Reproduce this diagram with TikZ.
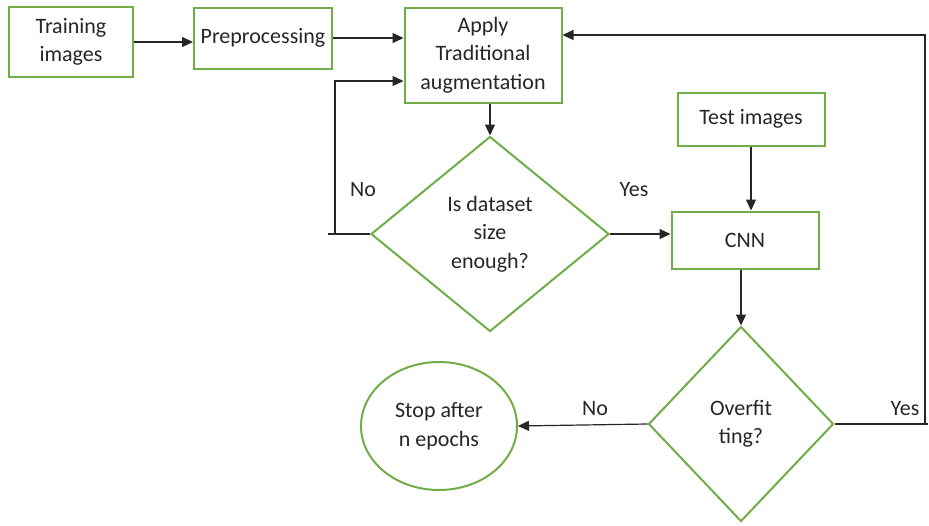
\documentclass[tikz,border=0pt]{standalone}
\usepackage{fontspec}
\setmainfont{Carlito}
\usetikzlibrary{arrows.meta,shapes.geometric}
\definecolor{boxgreen}{RGB}{112,173,71}

\begin{document}
\begin{tikzpicture}[
  x=1pt, y=-1pt,
  box/.style={draw=boxgreen, line width=2pt, rectangle, align=center, inner sep=2pt},
  dec/.style={draw=boxgreen, line width=2pt, diamond, align=center, inner sep=0pt},
  term/.style={draw=boxgreen, line width=2pt, ellipse, align=center, inner sep=0pt},
  lbl/.style={inner sep=0pt},
  >={Triangle[length=11pt,width=10pt]}, line width=1.2pt, black!85,
  font=\fontsize{22}{28.5}\selectfont
]
  \useasboundingbox (0,0) rectangle (929,525);

  \node[box, minimum width=124, minimum height=70] (train) at (71,42)   {Training\\images};
  \node[box, minimum width=138, minimum height=61] (prep)  at (263,38)  {Preprocessing};
  \node[box, minimum width=157, minimum height=95] (apply) at (483,55)  {Apply\\Traditional\\augmentation};
  \node[box, minimum width=147, minimum height=53] (test)  at (751,119) {Test images};
  \node[box, minimum width=147, minimum height=57] (cnn)   at (745,240) {CNN};
  \node[dec, minimum width=238, minimum height=195] (size) at (490,234) {Is dataset\\size\\enough?};
  \node[dec, minimum width=185, minimum height=195] (over) at (741,424) {Overfit\\ting?};
  \node[term, minimum width=156, minimum height=128] (stop) at (439,426) {Stop after\\n epochs};

  \coordinate (nostub) at (328,234);
  \coordinate (nocorner) at (335,81);
  \coordinate (yesstub) at (928,424);
  \coordinate (yescorner) at (925,35);

  \draw[->] (train) -- (prep.west |- train);
  \draw[->] (prep.east) -- (apply.west |- prep.east);
  \draw[->] (apply.south -| size.north) -- (size.north);
  \draw (size.west) -- (nostub);
  \draw[->] (nocorner |- size.west) -- (nocorner) -- (nocorner -| apply.west);
  \draw[->] (size.east) -- (cnn.west |- size.east);
  \draw[->] (test.south) -- (cnn.north -| test.south);
  \draw[->] (cnn.south -| over.north) -- (over.north);
  \draw[->] (over.west) -- (stop.east);
  \draw (over.east) -- (yesstub);
  \draw[->] (yescorner |- over.east) -- (yescorner) -- (yescorner -| apply.east);

  \node[lbl] (nosize)  at (363,190) {No};
  \node[lbl] (yessize) at (634,190) {Yes};
  \node[lbl] (noover)  at (595,409) {No};
  \node[lbl] (yesover) at (905,409) {Yes};
\end{tikzpicture}
\end{document}
